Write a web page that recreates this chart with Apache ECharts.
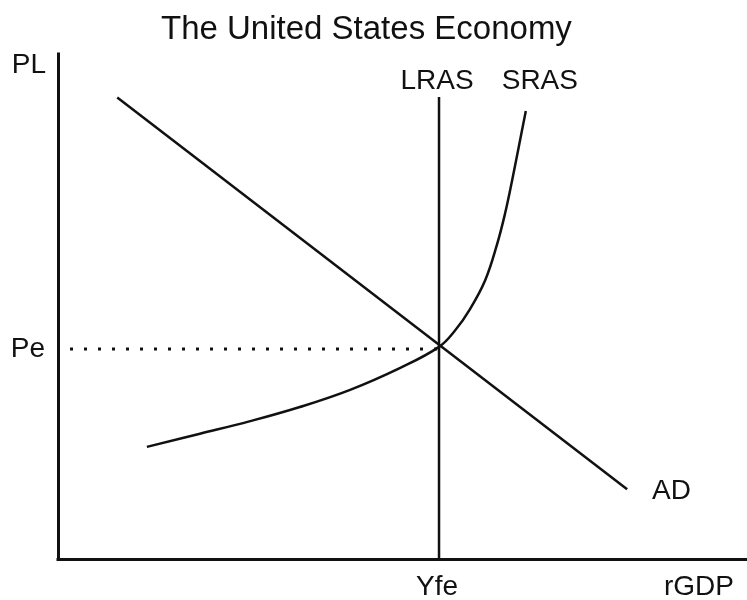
<!DOCTYPE html>
<html>
<head>
<meta charset="utf-8">
<title>The United States Economy</title>
<script src="https://cdn.jsdelivr.net/npm/echarts@6/dist/echarts.min.js"></script>
<style>
  html, body { margin: 0; padding: 0; background: #fff; }
  #main { width: 747px; height: 600px; }
</style>
</head>
<body>
<div id="main"></div>
<script>
// values, both axes on a 0-100 scale
const Yfe = 55.3            // full employment output (LRAS)
const Pe = 41.6             // equilibrium price level
const lrasTop = 91.5

// aggregate demand, straight line [rGDP, PL]
const adPoints = [[8.6, 91.4], [82.6, 13.8]]

// short run aggregate supply, flat then steep
const srasPoints = [
  [12.9, 22.2], [20.6, 24.8], [27.9, 27.3], [35.1, 30.1],
  [42.4, 33.5], [49.6, 37.8], [55.3, 42.0], [57.6, 45.2],
  [59.8, 49.5], [62.0, 55.2], [63.7, 62.2], [64.9, 68.5],
  [65.9, 74.9], [66.9, 81.8], [67.9, 88.7]
]

// dotted guide from the price axis to the equilibrium
const peGuideStart = 1.74

const ink = '#111'
const font = 'Liberation Sans, Arial, sans-serif'

const chart = echarts.init(document.getElementById('main'), null, { renderer: 'canvas' })

// labels sit on invisible points so they follow the scales
function tag(value, text, position, distance, offset) {
  return {
    value: value,
    label: { show: true, formatter: text, position: position, distance: distance, offset: offset || [0, 0] }
  }
}

const option = {
  animation: false,
  backgroundColor: '#fff',
  textStyle: { fontFamily: font, color: ink },
  title: {
    text: 'The United States Economy',
    left: 156,
    top: 8,
    textStyle: { fontSize: 33, fontWeight: 'normal', color: ink, fontFamily: font }
  },
  grid: { left: 58, right: 0, top: 54, bottom: 41, outerBoundsMode: 'none' },
  xAxis: {
    type: 'value',
    min: 0,
    max: 100,
    axisLine: { show: true, onZero: false, lineStyle: { color: ink, width: 3, cap: 'square' } },
    axisTick: { show: false },
    axisLabel: { show: false },
    splitLine: { show: false }
  },
  yAxis: {
    type: 'value',
    min: 0,
    max: 100,
    name: 'PL',
    nameLocation: 'end',
    nameGap: -11,
    nameTextStyle: { fontSize: 28, color: ink, align: 'right', verticalAlign: 'middle', padding: [0, 12, 0, 0] },
    axisLine: { show: true, onZero: false, lineStyle: { color: ink, width: 3, cap: 'square' } },
    axisTick: { show: false },
    axisLabel: { show: false },
    splitLine: { show: false }
  },
  series: [
    {
      name: 'Pe guide',
      type: 'line',
      data: [[peGuideStart, Pe], [Yfe, Pe]],
      symbol: 'none',
      lineStyle: { color: ink, width: 3, type: [3, 11], cap: 'butt' }
    },
    {
      name: 'LRAS',
      type: 'line',
      data: [[Yfe, 0], [Yfe, lrasTop]],
      symbol: 'none',
      lineStyle: { color: ink, width: 2.5 }
    },
    {
      name: 'AD',
      type: 'line',
      data: adPoints,
      symbol: 'none',
      lineStyle: { color: ink, width: 2.5 }
    },
    {
      name: 'SRAS',
      type: 'line',
      data: srasPoints,
      smooth: 0.4,
      symbol: 'none',
      lineStyle: { color: ink, width: 2.5 }
    },
    {
      name: 'labels',
      type: 'scatter',
      symbolSize: 0,
      silent: true,
      itemStyle: { opacity: 1 },
      label: { fontSize: 28, color: ink, fontFamily: font, opacity: 1 },
      data: [
        tag([Yfe, lrasTop], 'LRAS', 'top', 2, [-2, 0]),
        tag(srasPoints[srasPoints.length - 1], 'SRAS', 'top', 16, [14, 0]),
        tag(adPoints[adPoints.length - 1], 'AD', 'right', 25, [0, 2]),
        tag([0, Pe], 'Pe', 'left', 13),
        tag([Yfe, 0], 'Yfe', 'bottom', 14, [-2, 0]),
        tag([100, 0], 'rGDP', 'bottom', 14, [-48, 0])
      ]
    }
  ]
}

chart.setOption(option)
</script>
</body>
</html>
